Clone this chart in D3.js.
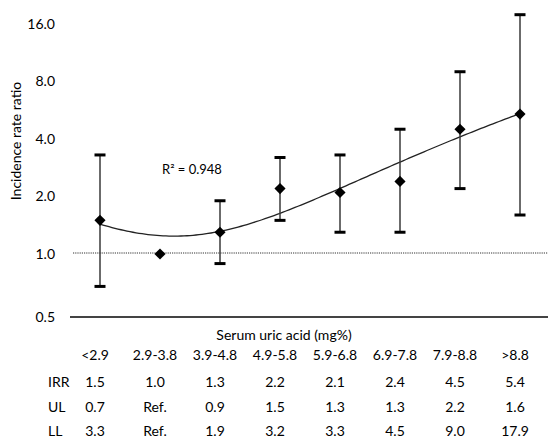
<!DOCTYPE html>
<html>
<head>
<meta charset="utf-8">
<script src="https://cdn.jsdelivr.net/npm/d3@7"></script>
<style>
  body { margin: 0; background: #fff; }
  text { font-family: Lato, "Open Sans", sans-serif; fill: #000; }
</style>
</head>
<body>
<div id="chart"></div>
<script>
const categories = ["<2.9", "2.9-3.8", "3.9-4.8", "4.9-5.8", "5.9-6.8", "6.9-7.8", "7.9-8.8", ">8.8"];
const irr = [1.5, 1.0, 1.3, 2.2, 2.1, 2.4, 4.5, 5.4];
const lower = [0.7, null, 0.9, 1.5, 1.3, 1.3, 2.2, 1.6];   // table row "UL"
const upper = [3.3, null, 1.9, 3.2, 3.3, 4.5, 9.0, 17.9];  // table row "LL"
const yTicks = [0.5, 1, 2, 4, 8, 16];
const rSquared = "R\u00B2 = 0.948";

const W = 548, H = 441;

const svg = d3.select("#chart")
    .append("svg")
    .attr("width", W)
    .attr("height", H);

const x = d3.scaleBand()
    .domain(categories)
    .range([70, 550]);

// log2 axis; the original puts the 0.5 baseline a little lower than a strict log spacing
const y = d3.scaleLog()
    .base(2)
    .domain([0.5, 1, 16])
    .range([317, 254, 24]);

const cx = d => x(d) + x.bandwidth() / 2;

svg.append("g")
    .selectAll("text")
    .data(yTicks)
    .join("text")
    .attr("x", 55)
    .attr("y", d => y(d))
    .attr("dy", "0.35em")
    .attr("text-anchor", "end")
    .style("font-size", "14px")
    .text(d => d3.format(".1f")(d));

svg.append("text")
    .attr("transform", "translate(21,141) rotate(-90)")
    .attr("text-anchor", "middle")
    .style("font-size", "14px")
    .text("Incidence rate ratio");

// baseline at 0.5
svg.append("line")
    .attr("x1", 70).attr("x2", 548)
    .attr("y1", y(0.5)).attr("y2", y(0.5))
    .attr("stroke", "#444")
    .attr("stroke-width", 1.8);

// dotted reference line at 1.0
svg.append("line")
    .attr("x1", 73).attr("x2", 548)
    .attr("y1", y(1) - 1).attr("y2", y(1) - 1)
    .attr("stroke", "#333")
    .attr("stroke-width", 1)
    .attr("stroke-dasharray", "1.2,1");

// quadratic least-squares trendline on raw IRR values vs category index
function polyFit(xs, ys, order) {
    const n = order + 1;
    const A = Array.from({ length: n }, () => new Array(n + 1).fill(0));
    xs.forEach((xv, k) => {
        for (let i = 0; i < n; i++) {
            for (let j = 0; j < n; j++) A[i][j] += Math.pow(xv, i + j);
            A[i][n] += ys[k] * Math.pow(xv, i);
        }
    });
    for (let c = 0; c < n; c++) {
        let p = c;
        for (let r = c + 1; r < n; r++) if (Math.abs(A[r][c]) > Math.abs(A[p][c])) p = r;
        [A[c], A[p]] = [A[p], A[c]];
        for (let r = 0; r < n; r++) {
            if (r === c) continue;
            const f = A[r][c] / A[c][c];
            for (let k = c; k <= n; k++) A[r][k] -= f * A[c][k];
        }
    }
    return A.map((row, i) => row[n] / row[i]);
}
const idx = irr.map((d, i) => i + 1);
const coef = polyFit(idx, irr, 2);
const fit = t => coef.reduce((s, c, i) => s + c * Math.pow(t, i), 0);
const xIdx = d3.scaleLinear().domain([1, 8]).range([cx(categories[0]), cx(categories[7])]);
const curve = d3.range(1, 8.001, 0.05).map(t => [xIdx(t), y(fit(t))]);

svg.append("path")
    .attr("d", d3.line()(curve))
    .attr("fill", "none")
    .attr("stroke", "#222")
    .attr("stroke-width", 1.3);

// error bars
const eb = categories.map((c, i) => ({ c, lo: lower[i], hi: upper[i] })).filter(d => d.lo != null);

svg.append("g")
    .selectAll("line")
    .data(eb)
    .join("line")
    .attr("x1", d => cx(d.c)).attr("x2", d => cx(d.c))
    .attr("y1", d => y(d.lo)).attr("y2", d => y(d.hi))
    .attr("stroke", "#3a3a3a")
    .attr("stroke-width", 1.5);

const caps = eb.flatMap(d => [{ c: d.c, v: d.lo }, { c: d.c, v: d.hi }]);
svg.append("g")
    .selectAll("line")
    .data(caps)
    .join("line")
    .attr("x1", d => cx(d.c) - 5.5).attr("x2", d => cx(d.c) + 5.5)
    .attr("y1", d => y(d.v)).attr("y2", d => y(d.v))
    .attr("stroke", "#000")
    .attr("stroke-width", 3);

// diamond markers
svg.append("g")
    .selectAll("path")
    .data(irr)
    .join("path")
    .attr("d", d3.symbol().type(d3.symbolSquare).size(62))
    .attr("transform", (d, i) => `translate(${cx(categories[i])},${y(d)}) rotate(45)`)
    .attr("fill", "#000");

svg.append("text")
    .attr("x", 162)
    .attr("y", 169)
    .attr("dy", "0.35em")
    .style("font-size", "13px")
    .text(rSquared);

svg.append("text")
    .attr("x", 284)
    .attr("y", 335)
    .attr("dy", "0.35em")
    .attr("text-anchor", "middle")
    .style("font-size", "14px")
    .text("Serum uric acid (mg%)");

const fmt = v => v == null ? "Ref." : d3.format(".1f")(v);
const rows = [
    { label: "", y: 355, vals: categories },
    { label: "IRR", y: 382, vals: irr.map(fmt) },
    { label: "UL", y: 407, vals: lower.map(fmt) },
    { label: "LL", y: 431, vals: upper.map(fmt) }
];

const rowG = svg.append("g")
    .selectAll("g")
    .data(rows)
    .join("g");

rowG.append("text")
    .attr("x", 48)
    .attr("y", d => d.y)
    .attr("dy", "0.35em")
    .style("font-size", "14px")
    .text(d => d.label);

rowG.selectAll("text.cell")
    .data(d => d.vals.map((v, i) => ({ v, i, y: d.y })))
    .join("text")
    .attr("class", "cell")
    .attr("x", d => cx(categories[d.i]) - 5)
    .attr("y", d => d.y)
    .attr("dy", "0.35em")
    .attr("text-anchor", "middle")
    .style("font-size", "14px")
    .text(d => d.v);
</script>
</body>
</html>
